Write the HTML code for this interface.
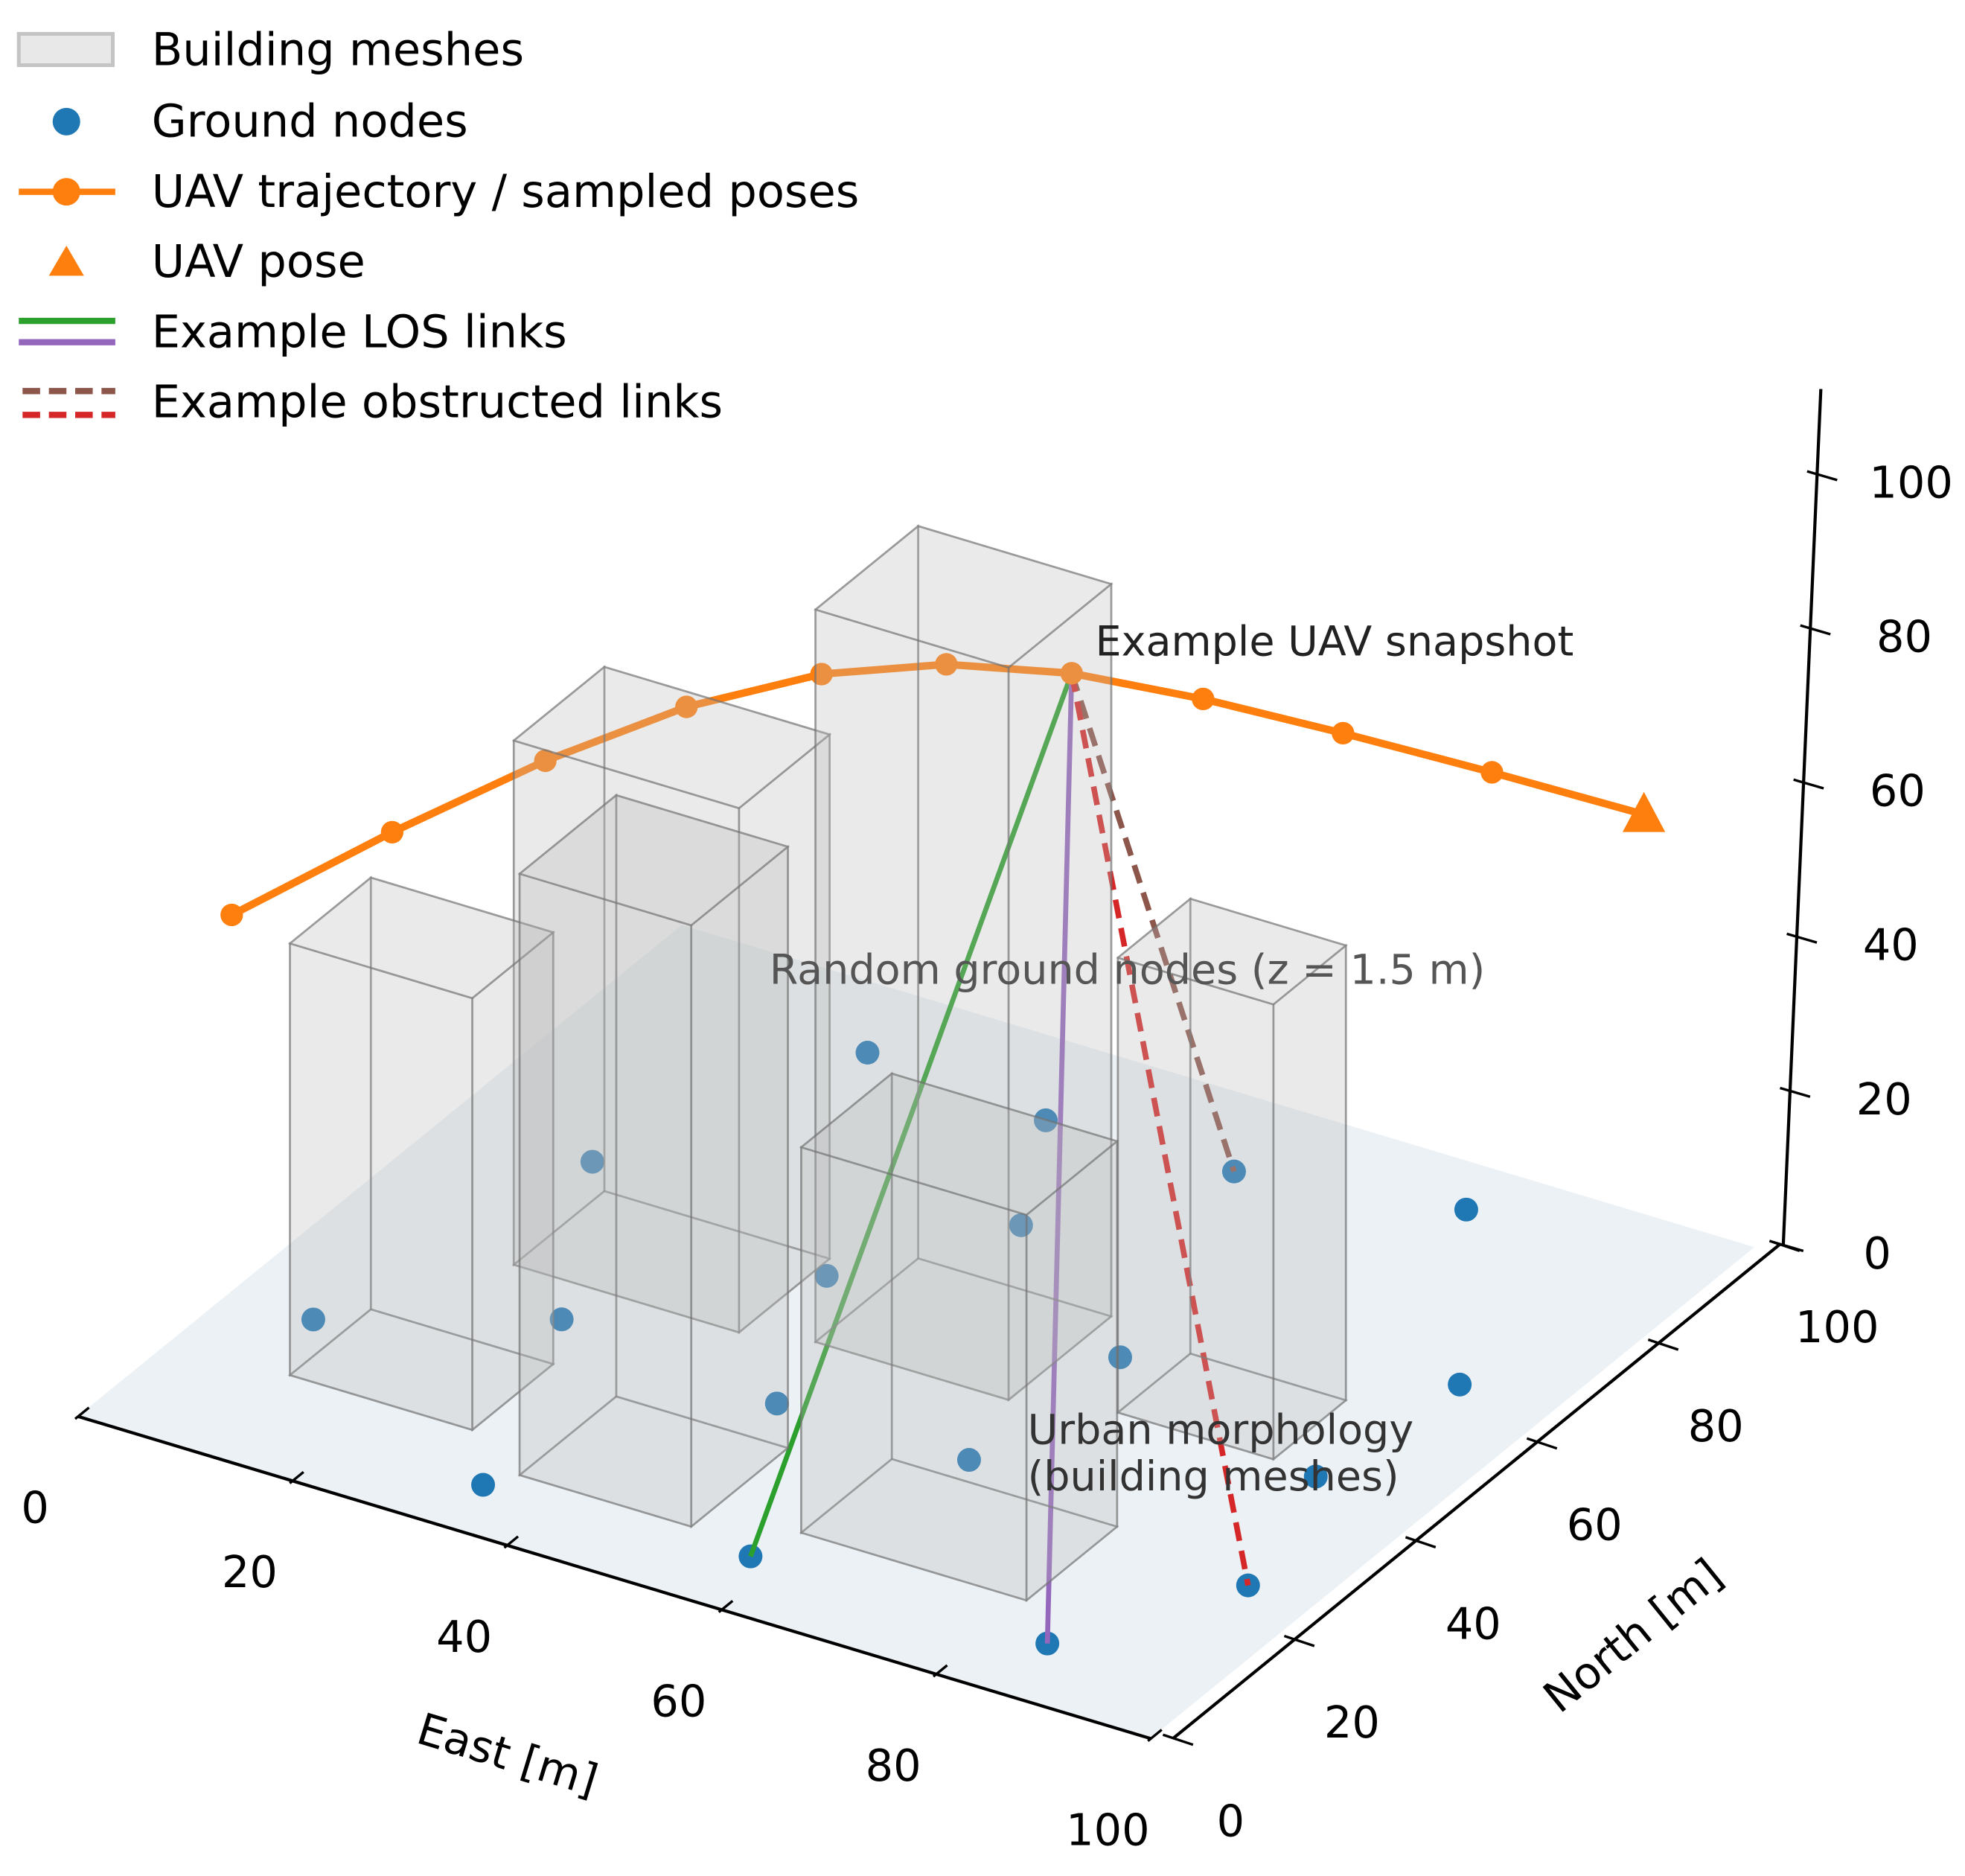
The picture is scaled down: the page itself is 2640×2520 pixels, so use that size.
<!DOCTYPE html>
<html><head><meta charset="utf-8"><style>
html,body{margin:0;padding:0;background:#fff}
svg{display:block}
text{font-family:"DejaVu Sans","Liberation Sans",sans-serif}
</style></head><body>
<svg id="chart" width="2640" height="2520" viewBox="0 0 1568 1496.7" xmlns="http://www.w3.org/2000/svg">
<g id="scene"></g>
<g id="legend" font-size="36">
  <g>
    <rect x="15" y="27" width="75" height="25" fill="#e8e8e8" stroke="#c4c4c4" stroke-width="3"/>
    <text x="121" y="52">Building meshes</text></g>
  <g>
    <circle cx="53" cy="97" r="11" fill="#1f77b4"/>
    <text x="121" y="109">Ground nodes</text></g>
  <g>
    <line x1="15" y1="153" x2="92" y2="153" stroke="#ff7f0e" stroke-width="5"/>
    <circle cx="53" cy="153" r="11" fill="#ff7f0e"/>
    <text x="121" y="165">UAV trajectory / sampled poses</text></g>
  <g>
    <polygon points="53,196 67,220 39,220" fill="#ff7f0e"/>
    <text x="121" y="221">UAV pose</text></g>
  <g>
    <line x1="15" y1="256" x2="92" y2="256" stroke="#2ca02c" stroke-width="5"/>
    <line x1="15" y1="273" x2="92" y2="273" stroke="#9467bd" stroke-width="5"/>
    <text x="121" y="277">Example LOS links</text></g>
  <g>
    <line x1="18" y1="312" x2="92" y2="312" stroke="#8c564b" stroke-width="5" stroke-dasharray="14,7"/>
    <line x1="18" y1="331" x2="92" y2="331" stroke="#d62728" stroke-width="5" stroke-dasharray="14,7"/>
    <text x="121" y="333">Example obstructed links</text></g>
</g>
</svg>
<script>
// ---- data ----
const nodeEast  = [8.9,34.3,25.8,14.7,24.3,58.5,47.5,40.2,65.3,49.2,42.1,86,67,59.2,94.8,90.3,92.4,78.2];
const nodeNorth = [23.2,6.2,34.3,59.1,87.6,7.5,31.4,52.6,31.6,68.8,85.5,7.8,53.6,86.3,25.4,44.6,64.7,91];
const nodeHeight = 1.5;
const trajEast  = [0,10,20,30,40,50,60,70,80,90,100];
const trajNorth = [25.5,34.3,41.9,47.5,52.1,55,58,62,67.4,74.3,81.7];
const trajUp    = [48.8,58.1,66.7,74.3,79.8,83.4,84.5,82.8,79.1,73.8,67.8];
const snapshotIndex = 6;
const losNodes = [5,11];
const losColors = ["#2ca02c","#9467bd"];
const obsNodes = [13,14];
const obsColors = ["#8c564b","#d62728"];
const bEast0  = [17,44,11,35,70.5,59];
const bEast1  = [38,62,28,51,85,80];
const bNorth0 = [42,44,15.6,11,47,15];
const bNorth1 = [57,61,29,27,59,30];
const bHeight = [68,95,56,78,59,50];
const eastTicks = [0,20,40,60,80,100];
const northTicks = [0,20,40,60,80,100];
const upTicks = [0,20,40,60,80,100];

// ---- projection ----
function P(x,y,z){return [62+8.56*x+4.82*y, 1130+2.57*x-3.92*y-6.15*z];}
function ZA(z){return [1423+0.27*z, 993-6.15*z];}
const NS="http://www.w3.org/2000/svg";
const scene=document.getElementById('scene');
function mk(tag,attrs,parent){const e=document.createElementNS(NS,tag);for(const k in attrs)e.setAttribute(k,attrs[k]);(parent||scene).appendChild(e);return e;}
function pts(a){return a.map(p=>p.join(',')).join(' ');}

// floor pane
const floor=mk('polygon',{points:pts([P(0,0,0),P(100,0,0),P(100,100,0),P(0,100,0)]),fill:'#ebf1f5'});



// axes
const ea=mk('line',{x1:P(0,0,0)[0],y1:P(0,0,0)[1],x2:P(100,0,0)[0],y2:P(100,0,0)[1],stroke:'#000','stroke-width':2.5});


eastTicks.forEach((t,i)=>{const p=P(t,0,0);
  const tk=mk('line',{x1:p[0]-2,y1:p[1]+2,x2:p[0]+9,y2:p[1]-7,stroke:'#000','stroke-width':2});
  
  
  const tx=mk('text',{x:p[0]-34,y:p[1]+85,'font-size':35,'text-anchor':'middle'});tx.textContent=t;
  
  
});
const na=mk('line',{x1:P(100,0,0)[0]+18,y1:P(100,0,0)[1],x2:P(100,100,0)[0]+20,y2:P(100,100,0)[1]-2,stroke:'#000','stroke-width':2.5});


northTicks.forEach(t=>{const p=P(100,t,0);const x=p[0]+18+0.02*t,y=p[1]-0.02*t;
  const tk=mk('line',{x1:x-8,y1:y-3,x2:x+16,y2:y+5,stroke:'#000','stroke-width':2});
  
  
  const tx=mk('text',{x:x+46,y:y+78,'font-size':35,'text-anchor':'middle'});tx.textContent=t;
  
  
});
const za0=ZA(0),za1=ZA(111);
const za=mk('line',{x1:za0[0],y1:za0[1],x2:za1[0],y2:za1[1],stroke:'#000','stroke-width':2.5});


upTicks.forEach(t=>{const p=ZA(t);
  const tk=mk('line',{x1:p[0]-8,y1:p[1]-2,x2:p[0]+16,y2:p[1]+5,stroke:'#000','stroke-width':2});
  
  
  const tx=mk('text',{x:p[0]+75,y:p[1]+19,'font-size':35,'text-anchor':'middle'});tx.textContent=t;
  
  
});
const et=mk('text',{x:405,y:1412,'font-size':35,'text-anchor':'middle',transform:'rotate(17 405 1400)'});et.textContent='East [m]';


const nt=mk('text',{x:1303,y:1317,'font-size':35,'text-anchor':'middle',transform:'rotate(-39 1303 1305)'});nt.textContent='North [m]';



// ground nodes
nodeEast.forEach((x,i)=>{const p=P(x,nodeNorth[i],nodeHeight);
  const c=mk('circle',{cx:p[0],cy:p[1],r:9.5,fill:'#1f77b4'});
  
  
});

// links
const sp=P(trajEast[snapshotIndex],trajNorth[snapshotIndex],trajUp[snapshotIndex]);
losNodes.forEach((n,i)=>{const p=P(nodeEast[n],nodeNorth[n],nodeHeight);
  const l=mk('line',{x1:sp[0],y1:sp[1],x2:p[0],y2:p[1],stroke:losColors[i],'stroke-width':4});
  
  
});
obsNodes.forEach((n,i)=>{const p=P(nodeEast[n],nodeNorth[n],nodeHeight);
  const l=mk('line',{x1:sp[0],y1:sp[1],x2:p[0],y2:p[1],stroke:obsColors[i],'stroke-width':4.5,'stroke-dasharray':'15,8'});
  
  
});

// trajectory
const tp=trajEast.map((x,i)=>P(x,trajNorth[i],trajUp[i]));
const tl=mk('polyline',{points:pts(tp),fill:'none',stroke:'#ff7f0e','stroke-width':6,'stroke-linejoin':'round'});


tp.slice(0,-1).forEach(p=>{const c=mk('circle',{cx:p[0],cy:p[1],r:9,fill:'#ff7f0e'});
  
  
});
const lp=tp[tp.length-1];
const tri=mk('polygon',{points:pts([[lp[0],lp[1]-18],[lp[0]+17,lp[1]+14],[lp[0]-17,lp[1]+14]]),fill:'#ff7f0e'});



// buildings
bEast0.forEach((x0,i)=>{const x1=bEast1[i],y0=bNorth0[i],y1=bNorth1[i],h=bHeight[i];
  const g=mk('g',{});
  
  
  const faces=[
    [[x0,y0,0],[x1,y0,0],[x1,y1,0],[x0,y1,0]],
    [[x0,y1,0],[x1,y1,0],[x1,y1,h],[x0,y1,h]],
    [[x0,y0,0],[x0,y1,0],[x0,y1,h],[x0,y0,h]],
    [[x1,y0,0],[x1,y1,0],[x1,y1,h],[x1,y0,h]],
    [[x0,y0,0],[x1,y0,0],[x1,y0,h],[x0,y0,h]],
    [[x0,y0,h],[x1,y0,h],[x1,y1,h],[x0,y1,h]]];
  faces.forEach(f=>mk('polygon',{points:pts(f.map(q=>P(q[0],q[1],q[2]))),fill:'#b8b8b8','fill-opacity':0.16,stroke:'#707070','stroke-opacity':0.45,'stroke-width':1.6},g));
});

// annotations
const a1=mk('text',{x:874,y:523,'font-size':33,fill:'#222'});a1.textContent='Example UAV snapshot';


const a2=mk('text',{x:614,y:785,'font-size':33,fill:'#555'});a2.textContent='Random ground nodes (z = 1.5 m)';


const a3=mk('text',{x:820,y:1152,'font-size':33,fill:'#333'});a3.textContent='Urban morphology';


const a4=mk('text',{x:820,y:1189,'font-size':33,fill:'#333'});a4.textContent='(building meshes)';


</script>
</body></html>
